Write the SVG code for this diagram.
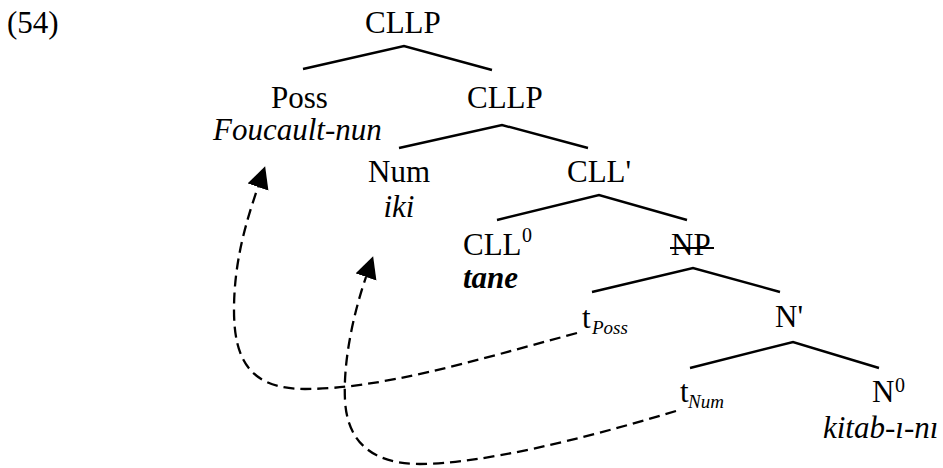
<svg xmlns="http://www.w3.org/2000/svg" width="943" height="468" viewBox="0 0 943 468">
  <style>
    text { font-family: "Liberation Serif", "Times New Roman", serif; font-size: 31px; fill: #000; }
    .it { font-style: italic; }
    .bi { font-style: italic; font-weight: bold; }
    .sub { font-style: italic; font-size: 19px; }
    .sup { font-size: 20px; }
    .edge { stroke: #000; stroke-width: 2.4; fill: none; stroke-linecap: butt; }
    .move { stroke: #000; stroke-width: 2.3; fill: none; stroke-dasharray: 11 6; }
  </style>
  <defs>
    <marker id="head" markerUnits="userSpaceOnUse" markerWidth="24" markerHeight="24" refX="0" refY="11" orient="auto">
      <path d="M0,0 L22,11 L0,22 z" fill="#000"/>
    </marker>
  </defs>

  <rect width="943" height="468" fill="#fff"/>

  <text id="label" x="7" y="33">(54)</text>

  <g id="connectors">
    <!-- tree branches -->
    <path class="edge" d="M303,69 L404,46 L492,70"/>
    <path class="edge" d="M399,148 L502,125 L588,148"/>
    <path class="edge" d="M497,220 L599,195 L687,220"/>
    <path class="edge" d="M592,292 L693,268 L780,292"/>
    <path class="edge" d="M690,368 L793,342 L879,368"/>
    <!-- movement of the possessor -->
    <path class="move" marker-end="url(#head)" d="M577,333 C470,362 380,389 305,389 C250,389 234,360 234,310 C234,262 246,222 258,187"/>
    <!-- movement of the numeral -->
    <path class="move" marker-end="url(#head)" d="M676,411 C580,440 480,464 420,464 C370,464 347,440 345,400 C343,360 354,312 366,277"/>
  </g>

  <g id="cllp-root">
    <text x="365" y="33">CLLP</text>
  </g>
  <g id="poss">
    <text x="271" y="108">Poss</text>
    <text class="it" x="213" y="140">Foucault-nun</text>
  </g>
  <g id="cllp">
    <text x="467" y="108">CLLP</text>
  </g>
  <g id="num">
    <text x="368" y="182">Num</text>
    <text class="it" x="399" y="217" text-anchor="middle">iki</text>
  </g>
  <g id="cll-bar">
    <text x="567" y="182">CLL'</text>
  </g>
  <g id="cll0">
    <text x="463" y="255">CLL</text>
    <text class="sup" x="522" y="242">0</text>
    <text class="bi" x="463" y="288">tane</text>
  </g>
  <g id="np">
    <text x="671" y="255">NP</text>
    <line x1="670" y1="248" x2="714" y2="248" stroke="#000" stroke-width="2"/>
  </g>
  <g id="t-poss">
    <text x="582" y="328">t</text>
    <text class="sub" x="592" y="334">Poss</text>
  </g>
  <g id="n-bar">
    <text x="775" y="327">N'</text>
  </g>
  <g id="t-num">
    <text x="680" y="402">t</text>
    <text class="sub" x="688" y="408">Num</text>
  </g>
  <g id="n0">
    <text x="872" y="402">N</text>
    <text class="sup" x="895" y="392">0</text>
    <text class="it" x="823" y="438">kitab-ı-nı</text>
  </g>
</svg>
